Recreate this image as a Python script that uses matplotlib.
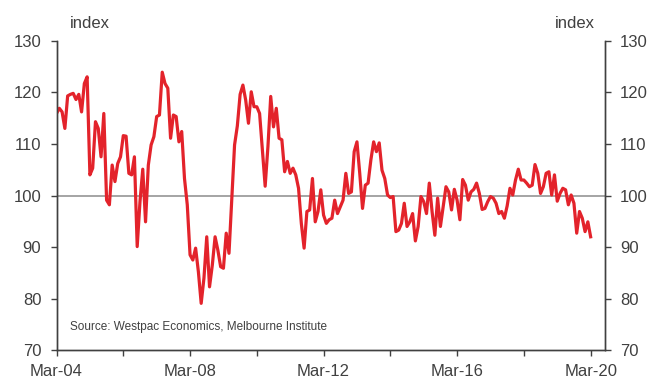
"""
Westpac-Melbourne Institute consumer sentiment index, monthly Mar-04 to Mar-20
"""
import numpy as np
import matplotlib
matplotlib.use('Agg')
import matplotlib.pyplot as plt

plt.rcParams['font.family'] = ['Liberation Sans', 'DejaVu Sans']

# monthly index values, Mar-2004 .. Mar-2020
sentiment = [
    115.9, 116.9, 116.2, 113.0, 119.3, 119.6, 119.8, 118.6, 119.6, 116.2,
    121.7, 123.0, 104.0, 105.3, 114.3, 113.0, 107.5, 115.9, 99.1, 98.2,
    105.9, 102.7, 106.2, 107.5, 111.6, 111.5, 104.3, 104.0, 107.5, 90.1,
    98.8, 105.1, 94.9, 105.9, 109.8, 111.4, 115.3, 115.6, 123.9, 121.7,
    120.8, 111.1, 115.6, 115.3, 110.4, 112.4, 103.3, 98.2, 88.5, 87.5,
    89.8, 85.2, 79.1, 84.0, 92.0, 82.3, 86.5, 92.0, 89.4, 86.2,
    85.9, 92.7, 88.8, 99.5, 109.8, 113.5, 119.6, 121.4, 118.5, 114.0,
    120.1, 117.2, 117.2, 115.9, 108.8, 101.8, 109.5, 119.2, 113.3, 116.9,
    111.1, 110.8, 104.6, 106.6, 104.3, 105.3, 104.0, 101.4, 94.6, 89.8,
    96.9, 97.2, 103.3, 94.9, 96.9, 101.1, 96.2, 94.6, 95.3, 95.6,
    99.1, 96.5, 97.8, 99.1, 104.3, 100.4, 100.7, 108.5, 110.4, 104.3,
    97.5, 102.0, 102.4, 106.9, 110.4, 108.5, 110.2, 104.9, 103.3, 100.1,
    99.6, 99.8, 93.0, 93.3, 94.6, 98.5, 94.0, 94.9, 96.5, 91.2,
    94.0, 99.8, 98.8, 96.5, 102.4, 96.9, 92.3, 99.5, 94.0, 97.8,
    101.7, 100.7, 97.2, 101.2, 99.1, 95.3, 103.1, 102.0, 99.1, 100.7,
    101.2, 102.4, 100.4, 97.3, 97.5, 98.8, 99.8, 99.5, 98.5, 96.5,
    96.9, 95.6, 98.0, 101.4, 100.1, 103.0, 105.1, 103.0, 103.0, 102.4,
    101.7, 102.0, 106.0, 104.3, 100.4, 101.7, 104.3, 104.6, 100.1, 104.0,
    98.9, 100.4, 101.4, 101.1, 98.2, 100.1, 98.5, 92.7, 96.9, 95.6,
    93.0, 94.9, 92.0,
]
months = np.arange(len(sentiment))  # months since Mar-04

tick_pos = [0, 24, 48, 72, 96, 120, 144, 168, 192]
tick_labels = ['Mar-04', '', 'Mar-08', '', 'Mar-12', '', 'Mar-16', '', 'Mar-20']
y_ticks = [70, 80, 90, 100, 110, 120, 130]

red = '#e3232b'
grey_txt = '#404040'

fig = plt.figure(figsize=(6.52, 3.79), dpi=100)
ax = fig.add_axes([0.0867, 0.0757, 0.8405, 0.8169])

ax.axhline(100, color='#8c8c8c', linewidth=1.1, zorder=1)
ax.plot(months, sentiment, color=red, linewidth=2.3, zorder=3)

ax.set_xlim(0, 197)
ax.set_ylim(70, 130)
ax.set_xticks(tick_pos)
ax.set_xticklabels(tick_labels)
ax.set_yticks(y_ticks)

#right hand axis, same scale
ax2 = ax.twinx()
ax2.set_ylim(70, 130)
ax2.set_yticks(y_ticks)

for a in (ax, ax2):
    a.spines['top'].set_visible(False)
    for s in ('left', 'right', 'bottom'):
        a.spines[s].set_color(grey_txt)
        a.spines[s].set_linewidth(1.0)
    a.tick_params(axis='both', colors=grey_txt, labelcolor=grey_txt,
                  labelsize=12, length=4, width=1.0, direction='out')
ax.tick_params(axis='y', pad=7)
ax2.tick_params(axis='y', pad=7)
ax.tick_params(axis='x', pad=6)

#axis unit labels
fig.text(70 / 652, 1 - 23 / 379, 'index', fontsize=12, color=grey_txt,
         ha='left', va='center')
fig.text(595 / 652, 1 - 23 / 379, 'index', fontsize=12, color=grey_txt,
         ha='right', va='center')

#source
ax.text(0.025, 0.075, 'Source: Westpac Economics, Melbourne Institute',
        transform=ax.transAxes, fontsize=8.5, color=grey_txt, ha='left', va='center')

plt.savefig('out.png', dpi=100)
